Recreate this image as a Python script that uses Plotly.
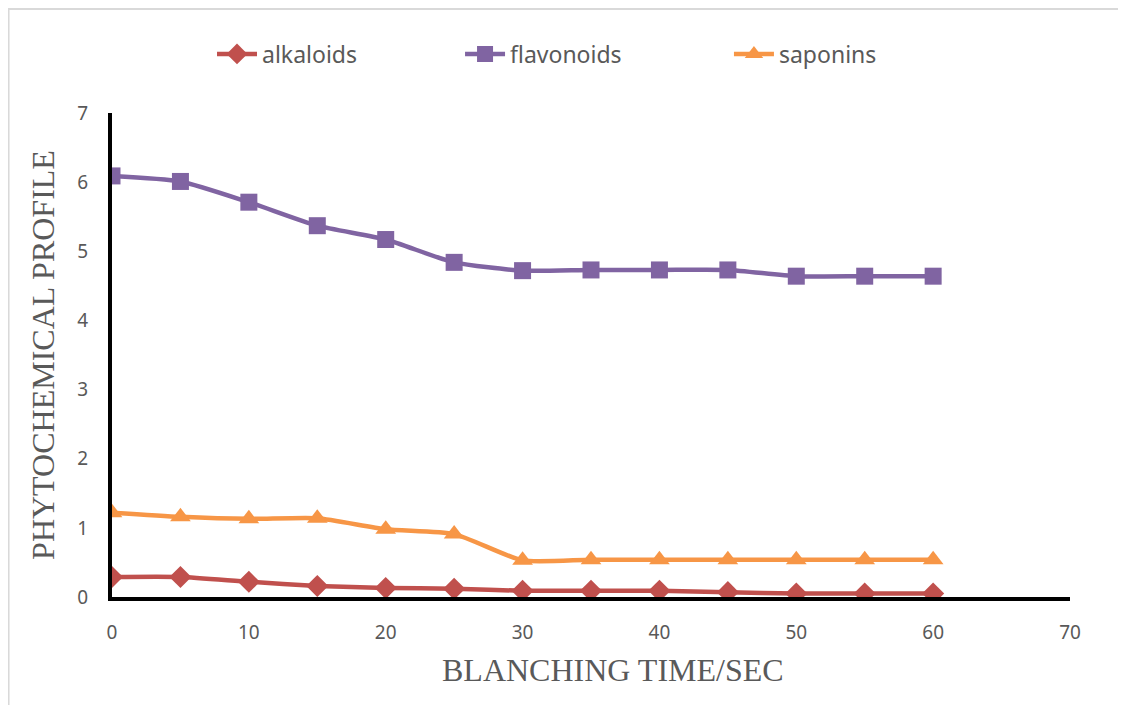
import plotly.graph_objects as go

# blanching time (sec)
time_sec = [0, 5, 10, 15, 20, 25, 30, 35, 40, 45, 50, 55, 60]

alkaloids = [0.29, 0.29, 0.22, 0.16, 0.13, 0.12, 0.09, 0.09, 0.09, 0.07, 0.05, 0.05, 0.05]
flavonoids = [6.09, 6.01, 5.71, 5.37, 5.17, 4.84, 4.72, 4.73, 4.73, 4.73, 4.64, 4.64, 4.64]
saponins = [1.22, 1.16, 1.13, 1.14, 0.98, 0.91, 0.53, 0.54, 0.54, 0.54, 0.54, 0.54, 0.54]

x_ticks = [0, 10, 20, 30, 40, 50, 60, 70]
y_ticks = [0, 1, 2, 3, 4, 5, 6, 7]

tick_font = dict(family="Liberation Sans Narrow, Noto Sans", size=19, color="#595959")
title_font = dict(family="Liberation Serif, Times New Roman", size=32, color="#595959")
legend_font = dict(family="Liberation Sans Narrow, Noto Sans", size=23, color="#595959")

fig = go.Figure()

# name, values, colour, marker, size, legend id, legend x
series = [
    ("alkaloids", alkaloids, "#C0504D", "diamond", 17, "legend", 0.1044),
    ("flavonoids", flavonoids, "#8064A2", "square", 17, "legend2", 0.3633),
    ("saponins", saponins, "#F79646", "triangle-up", 18, "legend3", 0.644),
]
legends = {}
for name, vals, col, sym, sz, leg, lx in series:
    fig.add_trace(go.Scatter(
        x=time_sec, y=vals, name=name, legend=leg,
        mode="lines+markers",
        line=dict(color=col, width=4.5, shape="spline", smoothing=0.6),
        marker=dict(color=col, symbol=sym, size=sz),
    ))
    legends[leg] = dict(
        orientation="h", x=lx, xanchor="left", y=1.122, yanchor="middle",
        font=legend_font, bgcolor="rgba(0,0,0,0)", itemwidth=40,
    )

fig.update_layout(
    width=1118, height=697,
    margin=dict(l=104, r=56, t=105, b=108),
    paper_bgcolor="white", plot_bgcolor="white",
    showlegend=True,
    xaxis=dict(
        range=[0, 70], tickvals=x_ticks, showgrid=False, zeroline=False,
        showline=True, linecolor="black", linewidth=4, automargin=False,
        ticks="", tickfont=tick_font, ticklabelstandoff=15,
    ),
    yaxis=dict(
        range=[0, 7], tickvals=y_ticks, showgrid=False, zeroline=False,
        showline=True, linecolor="black", linewidth=4, automargin=False,
        ticks="", tickfont=tick_font, ticklabelstandoff=16,
        title=dict(text="PHYTOCHEMICAL PROFILE", font=title_font, standoff=14),
    ),
    annotations=[dict(
        text="BLANCHING TIME/SEC", xref="paper", yref="paper",
        x=0.523, y=-0.151, xanchor="center", yanchor="middle",
        showarrow=False, font=title_font,
    )],
    shapes=[dict(
        type="rect", xref="paper", yref="paper",
        x0=-0.108, x1=2, y0=-1, y1=1.215,
        line=dict(color="#D9D9D9", width=2), fillcolor="rgba(0,0,0,0)",
        layer="below",
    )],
    **legends,
)

fig.write_html("out.html")
